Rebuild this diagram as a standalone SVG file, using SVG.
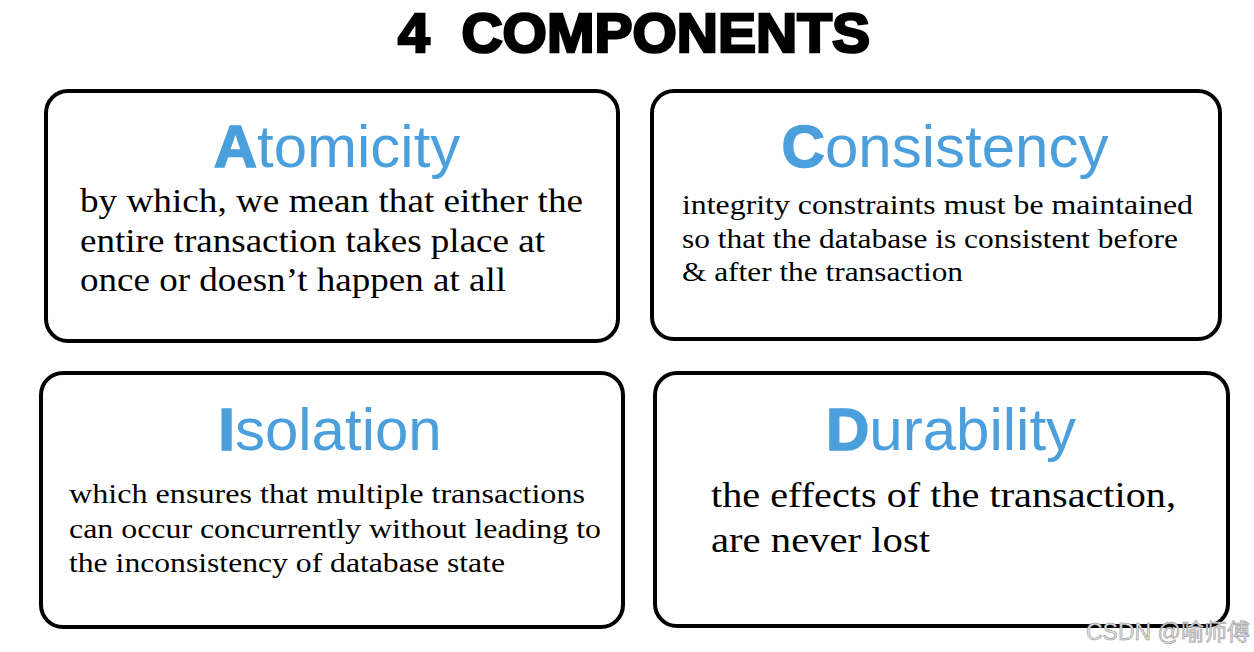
<svg xmlns="http://www.w3.org/2000/svg" width="1254" height="652" viewBox="0 0 1254 652">
<style>
.box{fill:#fff;stroke:#000;stroke-width:4}
.head{font-family:"Liberation Sans",Arial,sans-serif;font-size:60px;fill:#4a9fdc}
.head .b{font-weight:bold;stroke:#4a9fdc;stroke-width:1.5}
.body{font-family:"Liberation Serif","Times New Roman",serif;fill:#000}
.title{font-family:"Liberation Sans",Arial,sans-serif;font-weight:bold;font-size:56px;fill:#000;stroke:#000;stroke-width:2.6}
.wm{font-family:"Liberation Sans","Noto Sans CJK SC",sans-serif;font-size:23px;fill:#e0e0e0;stroke:#8a8a8a;stroke-width:0.5}
</style>
<rect width="1254" height="652" fill="#fff"/>
<text class="title" x="398" y="52" textLength="472" lengthAdjust="spacingAndGlyphs" xml:space="preserve">4  COMPONENTS</text>

<g id="atomicity">
<rect class="box" x="46" y="91" width="572" height="250" rx="22"/>
<text class="head" x="337" y="167" text-anchor="middle"><tspan class="b">A</tspan>tomicity</text>
<g class="body" font-size="33">
<text x="80" y="212" textLength="503" lengthAdjust="spacingAndGlyphs">by which, we mean that either the</text>
<text x="80" y="252" textLength="465" lengthAdjust="spacingAndGlyphs">entire transaction takes place at</text>
<text x="80" y="291" textLength="426" lengthAdjust="spacingAndGlyphs">once or doesn’t happen at all</text>
</g>
</g>

<g id="consistency">
<rect class="box" x="652" y="91" width="568" height="248" rx="22"/>
<text class="head" x="945" y="167" text-anchor="middle"><tspan class="b">C</tspan>onsistency</text>
<g class="body" font-size="28">
<text x="682" y="214" textLength="511" lengthAdjust="spacingAndGlyphs">integrity constraints must be maintained</text>
<text x="682" y="248" textLength="496" lengthAdjust="spacingAndGlyphs">so that the database is consistent before</text>
<text x="682" y="281" textLength="281" lengthAdjust="spacingAndGlyphs">&amp; after the transaction</text>
</g>
</g>

<g id="isolation">
<rect class="box" x="41" y="373" width="582" height="254" rx="22"/>
<text class="head" x="330" y="450" text-anchor="middle"><tspan class="b">I</tspan>solation</text>
<g class="body" font-size="28">
<text x="69" y="503" textLength="516" lengthAdjust="spacingAndGlyphs">which ensures that multiple transactions</text>
<text x="69" y="538" textLength="532" lengthAdjust="spacingAndGlyphs">can occur concurrently without leading to</text>
<text x="69" y="572" textLength="436" lengthAdjust="spacingAndGlyphs">the inconsistency of database state</text>
</g>
</g>

<g id="durability">
<rect class="box" x="655" y="373" width="573" height="253" rx="22"/>
<text class="head" x="951" y="450" text-anchor="middle"><tspan class="b">D</tspan>urability</text>
<g class="body" font-size="36">
<text x="711" y="507" textLength="465" lengthAdjust="spacingAndGlyphs">the effects of the transaction,</text>
<text x="711" y="552" textLength="219" lengthAdjust="spacingAndGlyphs">are never lost</text>
</g>
</g>

<g id="connectors"></g>

<text class="wm" x="1086" y="640" textLength="164" lengthAdjust="spacingAndGlyphs">CSDN @喻师傅</text>
</svg>
